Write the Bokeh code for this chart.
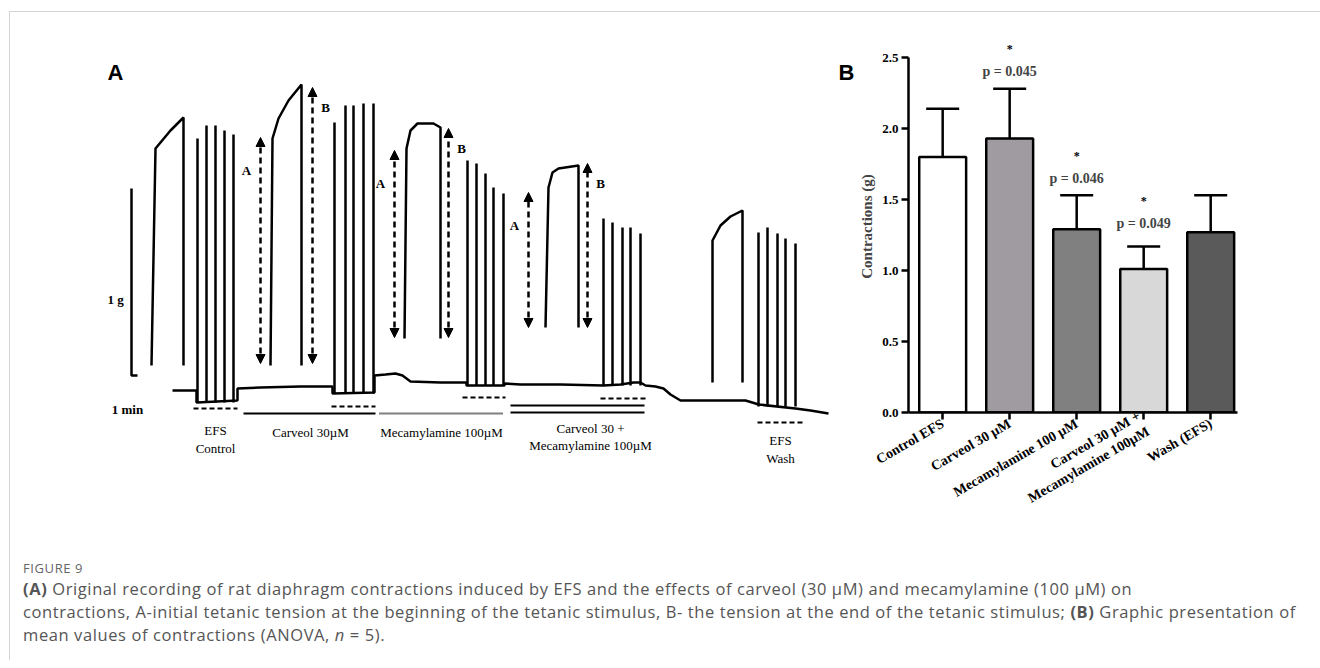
from math import pi
from bokeh.plotting import figure
from bokeh.models import (Range1d, Arrow, NormalHead, Label, Whisker, TeeHead,
                          ColumnDataSource, FixedTicker, Div)
from bokeh.layouts import row, column
from bokeh.core.properties import value
from bokeh.embed import file_html
from bokeh.resources import INLINE

SERIF = "Liberation Serif"

# ---- Panel A: digitised recording (page pixel coordinates) ----
base_x = [172, 196, 196, 237, 237, 260, 300, 332, 332, 374, 374, 385, 395, 402, 410, 440, 466,
          466, 504, 504, 520, 560, 603, 620, 633, 640, 645, 655, 663, 670, 680, 700, 745, 755,
          758, 795, 810, 828]
base_y = [390, 390, 402, 400, 388, 387, 386, 386, 393, 392, 375, 374, 373, 375, 381, 382, 382,
          385, 385, 383, 384, 384, 385, 384, 382, 382, 385, 386, 388, 394, 400, 400, 400, 403,
          404, 408, 410, 413]

pulse_x = [197, 206, 215, 224, 233, 334, 345, 353, 363, 373, 467, 476, 485, 493, 503,
           603, 612, 622, 630, 640, 758, 767, 777, 785, 795]
pulse_top = [138, 125, 125, 130, 134, 122, 105, 105, 103, 103, 160, 163, 173, 187, 193,
             218, 222, 227, 227, 233, 232, 227, 233, 238, 243]
pulse_bottom = [402] * 5 + [393] * 5 + [385] * 5 + [385] * 5 + [406] * 5

tet_x = [[151, 155, 160, 170, 183, 183],
         [270, 272, 278, 288, 301, 301],
         [404, 406, 410, 417, 433, 440, 440],
         [545, 548, 552, 558, 578, 578],
         [712, 712, 720, 730, 742, 742]]
tet_y = [[365, 148, 142, 130, 117, 365],
         [365, 138, 118, 100, 84, 365],
         [338, 148, 130, 123, 123, 127, 338],
         [327, 187, 172, 168, 165, 327],
         [382, 240, 225, 216, 210, 382]]

arrow_labels = ["A", "B", "A", "B", "A", "B"]
arrow_x = [260, 312, 394, 448, 528, 587]
arrow_top = [137, 87, 150, 128, 192, 163]
arrow_bottom = [363, 363, 337, 337, 327, 327]

pA = figure(width=846, height=528, frame_width=846, frame_height=500,
            x_range=Range1d(10, 856), y_range=Range1d(540, 40),
            output_backend="svg", toolbar_location=None, tools="")
pA.axis.visible = False
pA.grid.visible = False
pA.outline_line_color = None
pA.min_border = 0
pA.min_border_top = 28

pA.line(base_x, base_y, line_color="black", line_width=2.5)
pA.segment(pulse_x, pulse_bottom, pulse_x, pulse_top, line_color="black", line_width=2.5)
pA.multi_line(tet_x, tet_y, line_color="black", line_width=2.5)

for lab, ax, at, ab in zip(arrow_labels, arrow_x, arrow_top, arrow_bottom):
    pA.add_layout(Arrow(x_start=ax, y_start=ab, x_end=ax, y_end=at, line_width=2.5,
                        line_dash="6 4",
                        start=NormalHead(size=9, fill_color="black", line_color="black"),
                        end=NormalHead(size=9, fill_color="black", line_color="black")))
    lx = ax - 14 if lab == "A" else ax + 13
    ly = at + 33 if lab == "A" else at + 20
    pA.text([lx], [ly], text=[lab], text_font=value(SERIF), text_font_style="bold",
            text_font_size="13px", text_align="center", text_baseline="middle")

# scale bar
pA.line([131, 131, 137], [188, 375, 375], line_color="black", line_width=2.5)
pA.text([115], [299], text=["1 g"], text_font=value(SERIF), text_font_style="bold",
        text_font_size="13px", text_align="center", text_baseline="middle")
pA.text([127], [409], text=["1 min"], text_font=value(SERIF), text_font_style="bold",
        text_font_size="13px", text_align="center", text_baseline="middle")

# treatment bars
pA.segment([193, 331, 462, 600, 757], [408, 406, 397, 398, 422],
           [237, 375, 505, 645, 802], [408, 406, 397, 398, 422],
           line_color="black", line_width=2, line_dash="5 3")
pA.segment([243, 510, 510], [413, 405, 412], [375, 644, 644], [413, 405, 412],
           line_color="black", line_width=2)
pA.segment([379], [413], [503], [413], line_color="black", line_width=2, line_dash="1 1")

tr_labels = ["EFS", "Control", "Carveol 30µM", "Mecamylamine 100µM", "Carveol 30 +",
             "Mecamylamine 100µM", "EFS", "Wash"]
tr_x = [215, 215, 310, 441, 590, 590, 780, 780]
tr_y = [430, 448, 432, 432, 428, 445, 440, 458]
pA.text(tr_x, tr_y, text=tr_labels, text_font=value(SERIF), text_font_size="13px",
        text_align="center", text_baseline="middle")

pA.text([107], [72], text=["A"], text_font=value("Liberation Sans"), text_font_style="bold",
        text_font_size="22px", text_baseline="middle")
pA.text([838], [72], text=["B"], text_font=value("Liberation Sans"), text_font_style="bold",
        text_font_size="22px", text_baseline="middle")

# ---- Panel B: bar chart ----
groups = ["Control EFS", "Carveol 30 µM", "Mecamylamine 100 µM",
          "Carveol 30 µM +\nMecamylamine 100µM", "Wash (EFS)"]
means = [1.80, 1.93, 1.29, 1.01, 1.27]
errors = [2.14, 2.28, 1.53, 1.17, 1.53]
colors = ["#ffffff", "#a09ba0", "#808080", "#d8d8d8", "#5a5a5a"]
p_text = ["", "p = 0.045", "p = 0.046", "p = 0.049", ""]
star_y = [0, 2.56, 1.81, 1.49, 0]
p_y = [0, 2.40, 1.65, 1.33, 0]

pos = [1, 2, 3, 4, 5]
src = ColumnDataSource(dict(x=pos, top=means, err=errors, color=colors))

pB = figure(width=456, height=528, frame_width=329, frame_height=372,
            x_range=Range1d(0.49, 5.4), y_range=Range1d(0, 2.62),
            output_backend="svg", toolbar_location=None, tools="")
pB.min_border_left = 50
pB.min_border_right = 77
pB.min_border_top = 28
pB.min_border_bottom = 128
pB.outline_line_color = None
pB.grid.visible = False

pB.vbar(x="x", top="top", width=0.7, fill_color="color", line_color="black",
        line_width=2.5, source=src)
pB.add_layout(Whisker(base="x", lower="top", upper="err", source=src, line_width=2.5,
                      upper_head=TeeHead(size=33, line_width=2.5), lower_head=None))

for i, (t, sy, py) in enumerate(zip(p_text, star_y, p_y)):
    if t:
        pB.add_layout(Label(x=pos[i], y=py, text=t, text_font=SERIF, text_font_style="bold",
                            text_font_size="14px", text_align="center", text_baseline="middle"))
        pB.add_layout(Label(x=pos[i], y=sy, text="*", text_font=SERIF, text_font_style="bold",
                            text_font_size="12px", text_align="center", text_baseline="middle",
                            text_color="black"))

pB.yaxis.ticker = FixedTicker(ticks=[0, 0.5, 1.0, 1.5, 2.0, 2.5])
pB.yaxis.bounds = (0, 2.5)
pB.yaxis.major_label_overrides = {0: "0.0", 0.5: "0.5", 1: "1.0", 1.5: "1.5", 2: "2.0", 2.5: "2.5"}
pB.xaxis.ticker = FixedTicker(ticks=pos)
pB.xaxis.major_label_overrides = {p: g for p, g in zip(pos, groups)}
pB.xaxis.major_label_orientation = pi / 6
pB.yaxis.axis_label = "Contractions (g)"
for ax in (pB.xaxis, pB.yaxis):
    ax.axis_line_width = 2.5
    ax.major_tick_line_width = 2.5
    ax.major_tick_out = 7
    ax.major_tick_in = 0
    ax.major_label_standoff = 3
    ax.minor_tick_line_color = None
    ax.major_label_text_font = SERIF
    ax.major_label_text_font_style = "bold"
    ax.major_label_text_font_size = "13px"
    ax.major_label_text_color = "black"
pB.xaxis.major_label_text_font_size = "14px"
pB.yaxis.axis_label_standoff = 4
pB.yaxis.axis_label_text_font = SERIF
pB.yaxis.axis_label_text_font_style = "bold"
pB.yaxis.axis_label_text_font_size = "15px"

caption = Div(width=1300, height=110, text=(
    '<div style="font-family:\'Open Sans\';color:#555;line-height:23px;font-size:16.5px;'
    'letter-spacing:0.6px;white-space:nowrap;">'
    '<div style="font-size:13px;color:#666;line-height:18px;">FIGURE 9</div>'
    '<b>(A)</b> Original recording of rat diaphragm contractions induced by EFS and the effects '
    'of carveol (30 µM) and mecamylamine (100 µM) on<br>'
    'contractions, A-initial tetanic tension at the beginning of the tetanic stimulus, B- the '
    'tension at the end of the tetanic stimulus; <b>(B)</b> Graphic presentation of<br>'
    'mean values of contractions (ANOVA, <i>n</i> = 5).</div>'),
    styles={"padding-left": "8px", "padding-top": "14px"})

layout = column(row(pA, pB), caption,
                styles={"margin-left": "9px", "margin-top": "11px",
                        "border-top": "1px solid #d4d4d4", "border-left": "1px solid #d4d4d4"})

open("out.html", "w").write(file_html(layout, INLINE))
